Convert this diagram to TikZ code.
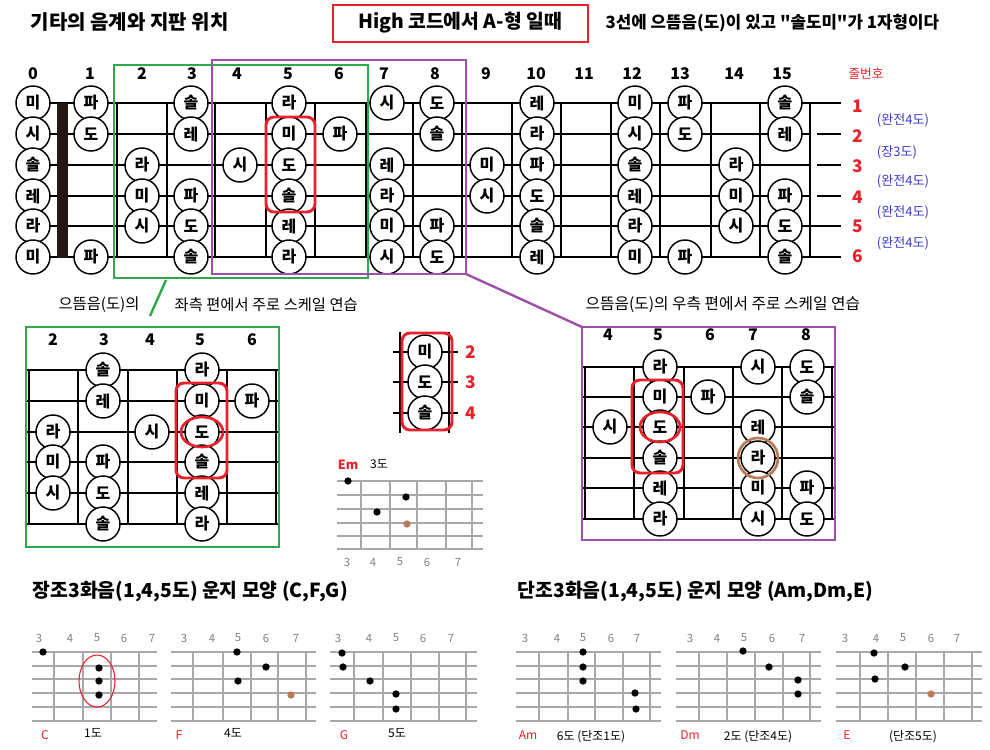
\documentclass[tikz,border=0pt]{standalone}
\usepackage{fontspec}
\setmainfont{Noto Sans CJK KR}
\newfontfamily\krplain{Noto Sans CJK KR}
\definecolor{myred}{HTML}{E8212B}
\definecolor{mygreen}{HTML}{2DAA4B}
\definecolor{mypurple}{HTML}{9E4FAA}
\definecolor{myblue}{HTML}{3B3BD0}
\definecolor{mybrown}{HTML}{B97A57}
\definecolor{gridgray}{HTML}{A8A8A8}
\definecolor{numgray}{HTML}{808080}
\definecolor{nutc}{HTML}{231815}
\newcommand{\chordgrid}[5]{%
  \foreach \yy in {652,666,679,693,707,721} \draw[gridl] (#1,\yy) -- (#2,\yy);
  \foreach \vx in {#3} \draw[gridl] (\vx,652) -- (\vx,721);
  \foreach \nx [count=\i from 3] in {#4} \node[gnum] (#5n\i) at (\nx,638) {\i};
}
\begin{document}
\begin{tikzpicture}[x=0.75pt,y=-0.75pt,
  nt/.style={circle,draw=black,fill=white,line width=1.1pt,minimum size=25.5pt,inner sep=0pt,font=\fontsize{12}{12}\selectfont\bfseries},
  strl/.style={line width=1.2pt},
  fretl/.style={line width=1.0pt},
  fnum/.style={font=\fontsize{12}{12}\selectfont\bfseries},
  gridl/.style={draw=gridgray,line width=0.8pt},
  gnum/.style={text=numgray,font=\fontsize{8.5}{9}\selectfont},
  dot/.style={circle,fill=black,inner sep=0pt,minimum size=5.5pt},
  bdot/.style={circle,fill=mybrown,inner sep=0pt,minimum size=5.5pt},
  snum/.style={text=myred,font=\fontsize{13}{13}\selectfont\bfseries},
  blab/.style={text=myblue,font=\fontsize{9.8}{10}\selectfont},
  clab/.style={text=myred,font=\fontsize{9}{10}\selectfont},
  dlab/.style={font=\fontsize{9}{10}\selectfont},
  hbox/.style={line width=2.2pt,rounded corners=6pt,draw=myred}
]
\useasboundingbox (0,0) rectangle (990,750);
\fill[white] (0,0) rectangle (990,750);

% ---------- titles ----------
\node[anchor=west,font=\fontsize{15}{15}\selectfont\bfseries] (title) at (26,22) {기타의 음계와 지판 위치};
\draw[myred,line width=2pt] (333,5) rectangle (588,42);
\node[font=\fontsize{14.5}{15}\selectfont\bfseries] (hightitle) at (460,23) {High 코드에서 A-형 일때};
\node[anchor=west,font=\krplain\fontsize{12.6}{13}\selectfont\bfseries] (desc) at (601,23) {3선에 으뜸음(도)이 있고 "솔도미"가 1자형이다};

% ---------- top fretboard ----------
\foreach \y in {103,226,257} \draw[strl] (33,\y) -- (841,\y);
\foreach \y in {134,165,196} {\draw[strl] (33,\y) -- (810,\y); \draw[strl] (817,\y) -- (841,\y);}
\foreach \x in {117,167,215,266,315,366,413,462,512,561,611,660,711,760,810} \draw[fretl] (\x,103) -- (\x,257);
\fill[nutc] (57,103) rectangle (68,258);
\foreach \n/\x in {0/33,1/90,2/142,3/192,4/237,5/288,6/339,7/384,8/435,9/486,10/536,11/584,12/632,13/680,14/734,15/782}
  \node[fnum] (fn\n) at (\x,74) {\n};
\node[text=myred,font=\fontsize{9.5}{10}\selectfont] (jul) at (866,74) {줄번호};
\foreach \x/\y/\t in {
  33/103/미,33/134/시,33/165/솔,33/196/레,33/226/라,33/257/미,
  91/103/파,91/134/도,91/257/파,
  142/165/라,142/196/미,142/226/시,
  191/103/솔,191/134/레,191/196/파,191/226/도,191/257/솔,
  240/165/시,
  289/103/라,289/134/미,289/165/도,289/196/솔,289/226/레,289/257/라,
  340/134/파,
  387/103/시,387/165/레,387/196/라,387/226/미,387/257/시,
  437/103/도,437/134/솔,437/226/파,437/257/도,
  487/165/미,487/196/시,
  537/103/레,537/134/라,537/165/파,537/196/도,537/226/솔,537/257/레,
  635/103/미,635/134/시,635/165/솔,635/196/레,635/226/라,635/257/미,
  685/103/파,685/134/도,685/257/파,
  736/165/라,736/196/미,736/226/시,
  785/103/솔,785/134/레,785/196/파,785/226/도,785/257/솔}
  \node[nt] (t\x-\y) at (\x,\y) {\t};
\foreach \n/\y in {1/106,2/136,3/166,4/197,5/226,6/256}
  \node[snum] (sn\n) at (858,\y) {\n};
\node[blab] (iv1) at (903,120) {(완전4도)};
\node[blab] (iv2) at (897,152) {(장3도)};
\node[blab] (iv3) at (903,181) {(완전4도)};
\node[blab] (iv4) at (903,212) {(완전4도)};
\node[blab] (iv5) at (903,243) {(완전4도)};
\draw[hbox] (266,117) rectangle (315,212);
\draw[mygreen,line width=2.2pt] (114,65) rectangle (368,278);
\draw[mypurple,line width=2.2pt] (212,60) rectangle (466,274);

% connectors
\coordinate (gA) at (166,280);
\coordinate (gB) at (150,316);
\draw[mygreen,line width=1.8pt] (gA) -- (gB);
\coordinate (pA) at (466,274);
\coordinate (pB) at (582,327);
\draw[mypurple,line width=1.8pt] (pA) -- (pB);

% ---------- captions ----------
\node[font=\fontsize{11.5}{12}\selectfont] (capL1) at (99,305) {으뜸음(도)의};
\node[anchor=west,font=\fontsize{11.5}{12}\selectfont] (capL2) at (170,305) {좌측 편에서 주로 스케일 연습};
\node[anchor=west,font=\fontsize{11.8}{12}\selectfont] (capR) at (581,305) {으뜸음(도)의 우측 편에서 주로 스케일 연습};

% ---------- lower left board ----------
\foreach \y in {370,401,432,462,493,524} \draw[strl] (27,\y) -- (278,\y);
\foreach \x in {29,78,128,177,227,276} \draw[fretl] (\x,370) -- (\x,524);
\foreach \n/\x in {2/53,3/104,4/150,5/200,6/252} \node[fnum] (lfn\n) at (\x,340) {\n};
\foreach \x/\y/\t in {
  53/432/라,53/462/미,53/493/시,
  103/370/솔,103/401/레,103/462/파,103/493/도,103/524/솔,
  152/432/시,
  202/370/라,202/401/미,202/432/도,202/462/솔,202/493/레,202/524/라,
  252/401/파}
  \node[nt] (l\x-\y) at (\x,\y) {\t};
\draw[hbox] (176,383) rectangle (227,478);
\draw[myred,line width=2pt] (202,432) ellipse [x radius=21, y radius=15];
\draw[mygreen,line width=2.2pt] (26,327) rectangle (279,547);

% ---------- middle fragment ----------
\foreach \x in {400,449} \draw[fretl] (\x,332) -- (\x,433);
\foreach \y in {352,382,413} \draw[strl] (393,\y) -- (458,\y);
\node[nt] (m1) at (425,352) {미};
\node[nt] (m2) at (425,382) {도};
\node[nt] (m3) at (425,413) {솔};
\draw[hbox] (402,333) rectangle (452,430);
\node[snum] (mn2) at (471,352) {2};
\node[snum] (mn3) at (471,382) {3};
\node[snum] (mn4) at (471,413) {4};

% ---------- Em diagram ----------
\node[clab,font=\fontsize{9.5}{10}\selectfont\bfseries] (emL) at (348,465) {Em};
\node[dlab] (emD) at (379,464) {3도};
\foreach \yy in {481,495,509,523,536,549} \draw[gridl] (337,\yy) -- (483,\yy);
\foreach \vx in {361,390,417,446,472} \draw[gridl] (\vx,481) -- (\vx,549);
\foreach \nx [count=\i from 3] in {347,373,400,427,458} \node[gnum] (emn\i) at (\nx,562) {\i};
\node[dot] (em1) at (348,481) {};
\node[dot] (em2) at (406,497) {};
\node[dot] (em3) at (377,512) {};
\node[bdot] (em4) at (407,524) {};

% ---------- lower right board ----------
\foreach \y in {367,397,427,458,488,519} \draw[strl] (583,\y) -- (834,\y);
\foreach \x in {585,634,684,733,782,832} \draw[fretl] (\x,367) -- (\x,519);
\foreach \n/\x in {4/608,5/658,6/710,7/753,8/806} \node[fnum] (rfn\n) at (\x,335) {\n};
\foreach \x/\y/\t in {
  610/427/시,
  660/367/라,660/397/미,660/427/도,660/458/솔,660/488/레,660/519/라,
  708/397/파,
  758/367/시,758/427/레,758/458/라,758/488/미,758/519/시,
  807/367/도,807/397/솔,807/488/파,807/519/도}
  \node[nt] (r\x-\y) at (\x,\y) {\t};
\draw[hbox] (632,380) rectangle (683,473);
\draw[myred,line width=2pt] (660,427) ellipse [x radius=20, y radius=15];
\draw[mybrown,line width=2pt] (758,458) circle [radius=20];
\draw[mypurple,line width=2.2pt] (582,327) rectangle (835,540);

% ---------- bottom headings ----------
\node[anchor=west,font=\fontsize{14.5}{15}\selectfont\bfseries] (majH) at (28,592) {장조3화음(1,4,5도) 운지 모양 (C,F,G)};
\node[anchor=west,font=\fontsize{14.5}{15}\selectfont\bfseries] (minH) at (513,592) {단조3화음(1,4,5도) 운지 모양 (Am,Dm,E)};

% ---------- chord diagrams ----------
\chordgrid{32}{157}{54,83,111,139}{39,70,97,124,152}{C}
\node[dot] (c1) at (43,652) {};
\node[dot] (c2) at (99,668) {};
\node[dot] (c3) at (99,681) {};
\node[dot] (c4) at (99,695) {};
\draw[myred,line width=0.8pt] (97,681) ellipse [x radius=18, y radius=26];
\node[clab] (cL) at (45,735) {C};
\node[dlab] (cD) at (93,733) {1도};

\chordgrid{171}{316}{193,223,251,278,306}{184,212,238,266,296}{F}
\node[dot] (f1) at (237,652) {};
\node[dot] (f2) at (266,667) {};
\node[dot] (f3) at (238,681) {};
\node[bdot] (f4) at (291,695) {};
\node[clab] (fL) at (179,735) {F};
\node[dlab] (fD) at (233,733) {4도};

\chordgrid{330}{477}{354,383,411,439,466}{338,369,396,423,451}{G}
\node[dot] (g1) at (342,653) {};
\node[dot] (g2) at (343,667) {};
\node[dot] (g3) at (370,681) {};
\node[dot] (g4) at (396,694) {};
\node[dot] (g5) at (396,709) {};
\node[clab] (gL) at (344,735) {G};
\node[dlab] (gD) at (397,733) {5도};

\chordgrid{516}{661}{539,568,595,623,650}{525,557,583,611,637}{Am}
\node[dot] (a1) at (583,652) {};
\node[dot] (a2) at (583,667) {};
\node[dot] (a3) at (583,681) {};
\node[dot] (a4) at (635,693) {};
\node[dot] (a5) at (636,709) {};
\node[clab] (aL) at (528,735) {Am};
\node[dlab] (aD) at (591,737) {6도 (단조1도)};

\chordgrid{676}{821}{699,727,755,783,810}{690,717,744,772,802}{Dm}
\node[dot] (d1) at (743,651) {};
\node[dot] (d2) at (769,667) {};
\node[dot] (d3) at (798,680) {};
\node[dot] (d4) at (798,694) {};
\node[clab] (dL) at (690,735) {Dm};
\node[dlab] (dD) at (758,737) {2도 (단조4도)};

\chordgrid{836}{982}{860,888,916,944,972}{845,876,903,931,957}{E}
\node[dot] (e1) at (874,653) {};
\node[dot] (e2) at (905,667) {};
\node[dot] (e3) at (875,679) {};
\node[bdot] (e4) at (931,694) {};
\node[clab] (eL) at (847,735) {E};
\node[dlab] (eD) at (913,737) {(단조5도)};
\end{tikzpicture}
\end{document}
